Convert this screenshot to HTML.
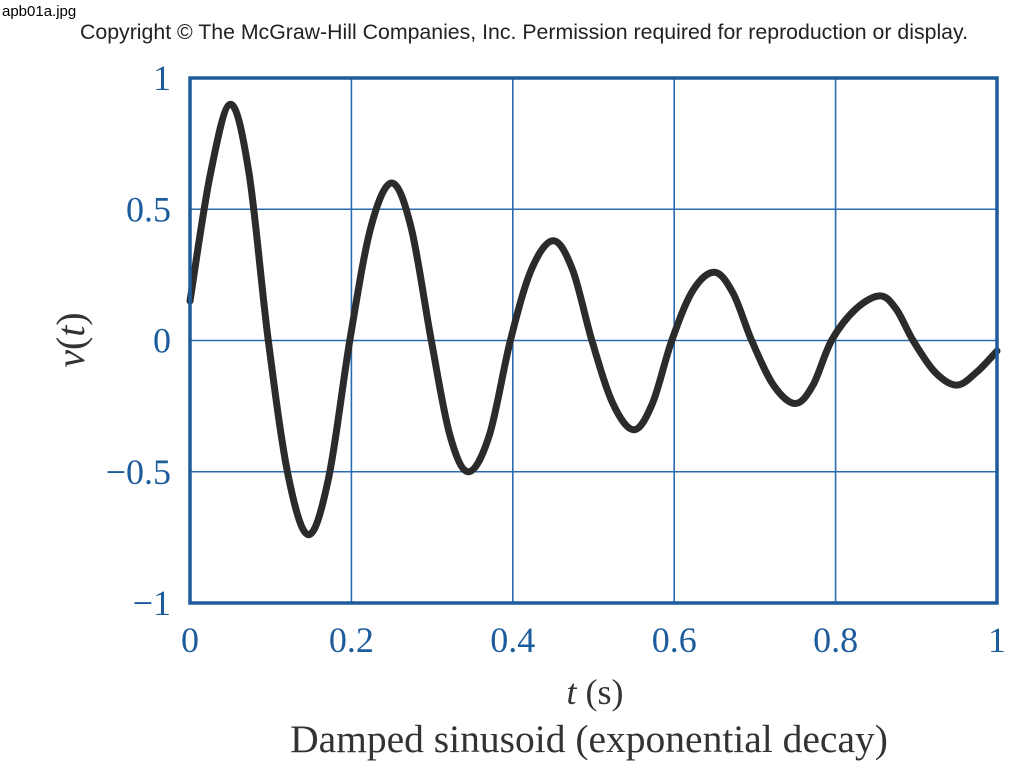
<!DOCTYPE html>
<html><head><meta charset="utf-8"><style>
body{margin:0;background:#fff;width:1024px;height:768px;overflow:hidden}
svg{display:block}
</style></head><body>
<svg width="1024" height="768" xmlns="http://www.w3.org/2000/svg">
<text x="2" y="16" font-family="Liberation Sans, sans-serif" font-size="15" fill="#000">apb01a.jpg</text>
<text x="524" y="39" text-anchor="middle" font-family="Liberation Sans, sans-serif" font-size="21.5" fill="#222" textLength="888" lengthAdjust="spacingAndGlyphs">Copyright © The McGraw-Hill Companies, Inc. Permission required for reproduction or display.</text>
<g id="grid"></g>
<g id="ticks"></g>
<path id="curve" fill="none" stroke="#2b2b2b" stroke-width="7" stroke-linejoin="round" stroke-linecap="round"/>
<rect x="190" y="78" width="807" height="525" fill="none" stroke="#1d5c9c" stroke-width="3.5"/>
<text transform="translate(84,340) rotate(-90)" text-anchor="middle" font-family="Liberation Serif, serif" font-size="40" fill="#333"><tspan font-style="italic">v</tspan>(<tspan font-style="italic">t</tspan>)</text>
<text x="595" y="704" text-anchor="middle" font-family="Liberation Serif, serif" font-size="36" fill="#333"><tspan font-style="italic">t</tspan> (s)</text>
<text x="589" y="752" text-anchor="middle" font-family="Liberation Serif, serif" font-size="39.5" fill="#333">Damped sinusoid (exponential decay)</text>
</svg>
<script>
const tValues=[0,0.025,0.05,0.073,0.097,0.122,0.147,0.172,0.198,0.224,0.25,0.274,0.299,0.322,0.345,0.371,0.397,0.423,0.45,0.474,0.498,0.524,0.55,0.573,0.597,0.623,0.65,0.673,0.696,0.723,0.75,0.772,0.795,0.825,0.855,0.875,0.896,0.923,0.95,0.975,1.0];
const vValues=[0.15,0.63,0.9,0.64,0,-0.52,-0.74,-0.52,0,0.43,0.6,0.43,0,-0.36,-0.5,-0.36,0,0.27,0.38,0.27,0,-0.24,-0.34,-0.24,0,0.19,0.26,0.18,0,-0.17,-0.24,-0.17,0,0.12,0.17,0.12,0,-0.12,-0.17,-0.12,-0.04];
const xTicks=[0,0.2,0.4,0.6,0.8,1];
const xTickLabels=["0","0.2","0.4","0.6","0.8","1"];
const yTicks=[1,0.5,0,-0.5,-1];
const yTickLabels=["1","0.5","0","\u22120.5","\u22121"];
const X0=190,X1=997,Y0=78,Y1=603;
const sx=t=>X0+(X1-X0)*t;
const sy=v=>Y0+(Y1-Y0)*(1-v)/2;
const NS="http://www.w3.org/2000/svg";
const grid=document.getElementById('grid'),ticks=document.getElementById('ticks');
xTicks.forEach((t,i)=>{
 const l=document.createElementNS(NS,'line');
 l.setAttribute('x1',sx(t));l.setAttribute('x2',sx(t));l.setAttribute('y1',Y0);l.setAttribute('y2',Y1);
 l.setAttribute('stroke','#2a6bb0');l.setAttribute('stroke-width','1.6');
 
 
 grid.appendChild(l);
 const tx=document.createElementNS(NS,'text');
 tx.setAttribute('x',sx(t));tx.setAttribute('y',652);tx.setAttribute('text-anchor','middle');
 tx.setAttribute('font-family','Liberation Serif, serif');tx.setAttribute('font-size','36');tx.setAttribute('fill','#1d5c9c');
 tx.textContent=xTickLabels[i];
 
 
 ticks.appendChild(tx);
});
yTicks.forEach((v,i)=>{
 const l=document.createElementNS(NS,'line');
 l.setAttribute('x1',X0);l.setAttribute('x2',X1);l.setAttribute('y1',sy(v));l.setAttribute('y2',sy(v));
 l.setAttribute('stroke','#2a6bb0');l.setAttribute('stroke-width','1.6');
 
 
 grid.appendChild(l);
 const tx=document.createElementNS(NS,'text');
 tx.setAttribute('x',171);tx.setAttribute('y',sy(v)+12);tx.setAttribute('text-anchor','end');
 tx.setAttribute('font-family','Liberation Serif, serif');tx.setAttribute('font-size','36');tx.setAttribute('fill','#1d5c9c');
 tx.textContent=yTickLabels[i];
 
 
 ticks.appendChild(tx);
});
const pts=tValues.map((t,i)=>[sx(t),sy(vValues[i])]);
let d='M'+pts[0][0]+','+pts[0][1];
for(let i=0;i<pts.length-1;i++){
 const p0=pts[Math.max(0,i-1)],p1=pts[i],p2=pts[i+1],p3=pts[Math.min(pts.length-1,i+2)];
 const c1=[p1[0]+(p2[0]-p0[0])/6,p1[1]+(p2[1]-p0[1])/6];
 const c2=[p2[0]-(p3[0]-p1[0])/6,p2[1]-(p3[1]-p1[1])/6];
 d+=' C'+c1[0]+','+c1[1]+' '+c2[0]+','+c2[1]+' '+p2[0]+','+p2[1];
}
document.getElementById('curve').setAttribute('d',d);
</script>
</body></html>
